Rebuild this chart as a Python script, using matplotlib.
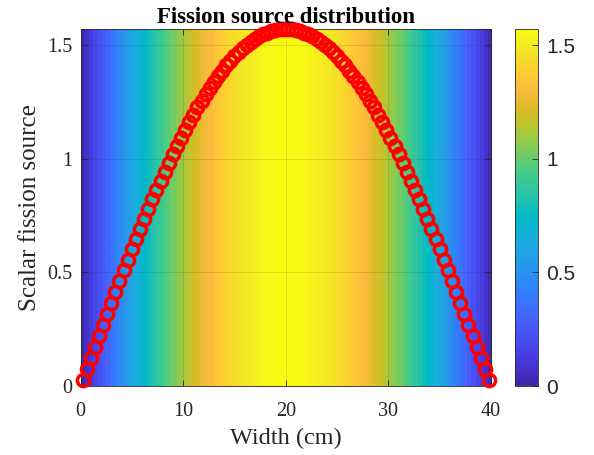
import numpy as np
import matplotlib
matplotlib.use("Agg")
import matplotlib.pyplot as plt
from matplotlib.colors import LinearSegmentedColormap

# ---- data ----
width_min, width_max = 0.0, 40.0
n_cells = 100
width_cm = np.linspace(0.2, 39.8, n_cells)   # cell centres
fission_source = [
    0.025, 0.074, 0.123, 0.172, 0.221, 0.270, 0.319, 0.367, 0.414, 0.462,
    0.509, 0.555, 0.601, 0.646, 0.691, 0.735, 0.778, 0.821, 0.862, 0.903,
    0.943, 0.982, 1.020, 1.057, 1.093, 1.128, 1.162, 1.194, 1.226, 1.256,
    1.285, 1.313, 1.339, 1.364, 1.388, 1.411, 1.432, 1.451, 1.469, 1.486,
    1.501, 1.515, 1.527, 1.538, 1.547, 1.555, 1.561, 1.566, 1.569, 1.571,
    1.571, 1.569, 1.566, 1.561, 1.555, 1.547, 1.538, 1.527, 1.515, 1.501,
    1.486, 1.469, 1.451, 1.432, 1.411, 1.388, 1.364, 1.339, 1.313, 1.285,
    1.256, 1.226, 1.194, 1.162, 1.128, 1.093, 1.057, 1.020, 0.982, 0.943,
    0.903, 0.862, 0.821, 0.778, 0.735, 0.691, 0.646, 0.601, 0.555, 0.509,
    0.462, 0.414, 0.367, 0.319, 0.270, 0.221, 0.172, 0.123, 0.074, 0.025,
]
x_ticks = [0, 10, 20, 30, 40]
y_ticks = [0, 0.5, 1, 1.5]
cbar_ticks = [0, 0.5, 1, 1.5]
title = "Fission source distribution"
xlabel = "Width (cm)"
ylabel = "Scalar fission source"

# ---- parula colormap (MATLAB) ----
_parula = [
    [0.2422, 0.1504, 0.6603], [0.2504, 0.1650, 0.7076], [0.2578, 0.1818, 0.7511],
    [0.2647, 0.1978, 0.7952], [0.2706, 0.2147, 0.8364], [0.2751, 0.2342, 0.8710],
    [0.2783, 0.2559, 0.8991], [0.2803, 0.2782, 0.9221], [0.2813, 0.3006, 0.9414],
    [0.2810, 0.3228, 0.9579], [0.2795, 0.3447, 0.9717], [0.2760, 0.3667, 0.9829],
    [0.2699, 0.3892, 0.9906], [0.2602, 0.4123, 0.9952], [0.2440, 0.4358, 0.9988],
    [0.2206, 0.4603, 0.9973], [0.1963, 0.4847, 0.9892], [0.1834, 0.5074, 0.9798],
    [0.1786, 0.5289, 0.9682], [0.1764, 0.5499, 0.9520], [0.1687, 0.5703, 0.9359],
    [0.1540, 0.5902, 0.9218], [0.1460, 0.6091, 0.9079], [0.1380, 0.6276, 0.8973],
    [0.1248, 0.6459, 0.8883], [0.1113, 0.6635, 0.8763], [0.0952, 0.6798, 0.8598],
    [0.0689, 0.6948, 0.8394], [0.0297, 0.7082, 0.8163], [0.0036, 0.7203, 0.7917],
    [0.0067, 0.7312, 0.7660], [0.0433, 0.7411, 0.7394], [0.0964, 0.7500, 0.7120],
    [0.1408, 0.7584, 0.6842], [0.1717, 0.7670, 0.6554], [0.1938, 0.7758, 0.6251],
    [0.2161, 0.7843, 0.5923], [0.2470, 0.7918, 0.5567], [0.2906, 0.7973, 0.5188],
    [0.3406, 0.8008, 0.4789], [0.3909, 0.8029, 0.4354], [0.4456, 0.8024, 0.3909],
    [0.5044, 0.7993, 0.3480], [0.5616, 0.7942, 0.3045], [0.6174, 0.7876, 0.2612],
    [0.6720, 0.7793, 0.2227], [0.7242, 0.7698, 0.1910], [0.7738, 0.7598, 0.1646],
    [0.8203, 0.7498, 0.1535], [0.8634, 0.7406, 0.1596], [0.9035, 0.7330, 0.1774],
    [0.9393, 0.7288, 0.2100], [0.9728, 0.7298, 0.2394], [0.9956, 0.7434, 0.2371],
    [0.9970, 0.7659, 0.2199], [0.9952, 0.7893, 0.2028], [0.9892, 0.8136, 0.1885],
    [0.9786, 0.8386, 0.1766], [0.9676, 0.8639, 0.1643], [0.9610, 0.8890, 0.1537],
    [0.9597, 0.9135, 0.1423], [0.9628, 0.9373, 0.1265], [0.9691, 0.9606, 0.1064],
    [0.9769, 0.9839, 0.0805],
]
parula = LinearSegmentedColormap.from_list("parula", _parula, N=256)

serif = ["Liberation Serif", "DejaVu Serif"]
sans = ["Liberation Sans", "DejaVu Sans"]
dark = (0.15, 0.15, 0.15)

fig = plt.figure(figsize=(5.94, 4.55), dpi=100)
W, H = 594, 455
ax = fig.add_axes([80.5 / W, 1 - 386 / H, (491 - 80.5) / W, (386 - 29) / H])
cax = fig.add_axes([515 / W, 1 - 386 / H, (538 - 515) / W, (386 - 29) / H])

vals = np.array(fission_source)
ytop = vals.max()
img = ax.imshow(vals[None, :], aspect="auto", cmap=parula, vmin=0, vmax=ytop,
                extent=[width_min, width_max, 0, ytop], origin="lower",
                interpolation="nearest", zorder=0)
ax.plot(width_cm, vals, linestyle="none", marker="o", markersize=8.8,
        markerfacecolor="none", markeredgecolor="red", markeredgewidth=2.5,
        clip_on=False, zorder=3)

ax.set_xlim(width_min, width_max)
ax.set_ylim(0, ytop)
ax.set_xticks(x_ticks)
ax.set_yticks(y_ticks)
ax.set_xticklabels([f"{t:g}" for t in x_ticks])
ax.set_yticklabels([f"{t:g}" for t in y_ticks])
ax.grid(True, color=dark, alpha=0.15, linewidth=0.6, zorder=1)
ax.set_axisbelow(False)
ax.tick_params(direction="in", top=True, right=True, length=4, width=0.6,
               color=dark, labelcolor=dark, labelsize=14.5)
ax.tick_params(axis="x", pad=11.5)
ax.tick_params(axis="y", pad=6)
for lab in ax.get_xticklabels() + ax.get_yticklabels():
    lab.set_family(serif)
for sp in ax.spines.values():
    sp.set_color(dark)
    sp.set_linewidth(0.6)
ax.set_xlabel(xlabel, fontsize=17.5, family=serif, color=dark, labelpad=5)
ax.set_ylabel(ylabel, fontsize=18, family=serif, color=dark, labelpad=4.5)
ax.set_title(title, fontsize=16.5, family=serif, fontweight="bold", color="black", pad=4)

cb = fig.colorbar(img, cax=cax, ticks=cbar_ticks)
cb.ax.set_yticklabels([f"{t:g}" for t in cbar_ticks])
cb.outline.set_edgecolor(dark)
cb.outline.set_linewidth(0.6)
cax.tick_params(direction="in", length=4, width=0.6, color=dark, labelcolor=dark,
                labelsize=15, pad=6)
for lab in cax.get_yticklabels():
    lab.set_family(sans)

fig.savefig("out.png", dpi=100)
